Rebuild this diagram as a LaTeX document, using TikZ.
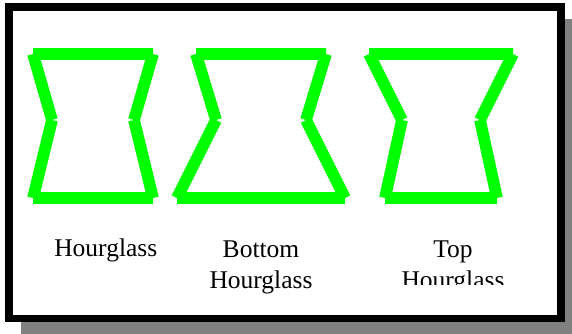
\documentclass[tikz,border=0pt]{standalone}
\usepackage{fontspec}
\setmainfont{Liberation Serif}
\usetikzlibrary{positioning}
\definecolor{hgreen}{RGB}{0,255,0}
\definecolor{shadowgray}{RGB}{128,128,128}
\begin{document}
\begin{tikzpicture}[x=1pt,y=-1pt,
  glass/.style={draw=hgreen,line width=11.7pt,line cap=butt},
  caption/.style={font=\fontsize{25.5}{31}\selectfont,inner sep=0pt,align=center,anchor=base}]
\useasboundingbox (0,0) rectangle (572,333);
\begin{scope}
\clip (0,0) rectangle (572,333);
\fill[shadowgray] (20.7,19) rectangle (590,345);
\end{scope}
\draw[line width=7.7pt,fill=white] (8.9,7) rectangle (561,318.5);
\foreach \n/\tl/\tr/\wl/\wr/\bl/\br in {a/33/153/52/134/33/153,b/196/326/216/306/177/345,c/369/513/402/480/385/497}{
\coordinate (\n-tl) at (\tl,54);
\coordinate (\n-tr) at (\tr,54);
\coordinate (\n-wl) at (\wl,120);
\coordinate (\n-wr) at (\wr,120);
\coordinate (\n-bl) at (\bl,198);
\coordinate (\n-br) at (\br,198);
\draw[glass] (\n-tl)--(\n-tr) (\n-tr)--(\n-wr) (\n-wr)--(\n-br)
  (\n-br)--(\n-bl) (\n-bl)--(\n-wl) (\n-wl)--(\n-tl);
}
\node[caption] (hg) at (105.8,256.7) {Hourglass};
\node[caption] (bottomhg) at (261,288.3) {Bottom\\Hourglass};
\begin{scope}
\clip (380,225) rectangle (530,284.3);
\node[caption] (tophg) at (453,288.3) {Top\\Hourglass};
\end{scope}
\end{tikzpicture}
\end{document}
